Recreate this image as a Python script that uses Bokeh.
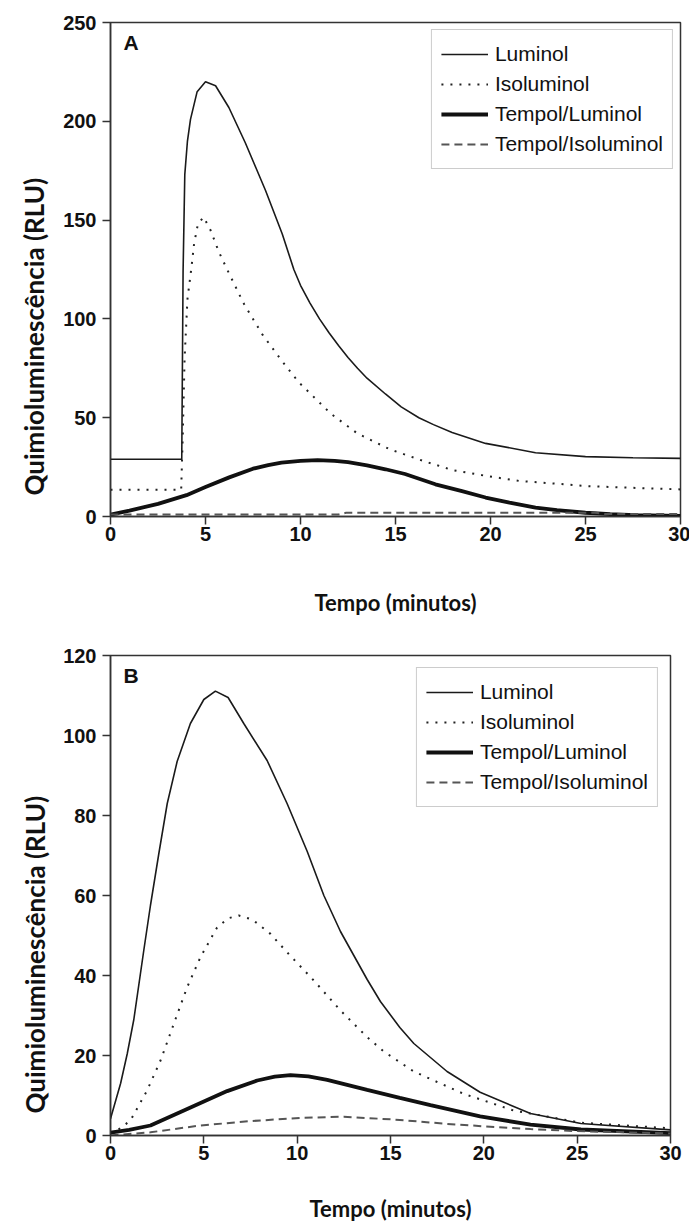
from bokeh.plotting import figure
from bokeh.models import Range1d, FixedTicker, Label, Title
from bokeh.layouts import column
from bokeh.embed import file_html
from bokeh.resources import INLINE

# ---------------- data ----------------
series_names = ["Luminol", "Isoluminol", "Tempol/Luminol", "Tempol/Isoluminol"]
x_ticks = [0, 5, 10, 15, 20, 25, 30]
a_y_ticks = [0, 50, 100, 150, 200, 250]
b_y_ticks = [0, 20, 40, 60, 80, 100, 120]

# Panel A
a_lum_t = [0, 3.75, 3.82, 3.91, 4.05, 4.21, 4.56, 5.0, 5.53, 6.23, 7.1, 8.16, 9.04, 9.65, 10.0, 10.5, 11.0, 11.5, 12.0, 12.5, 13.0, 13.5, 14.47, 15.3, 16.23, 17.0, 17.98, 19.74, 22.37, 25.0, 27.5, 30]
a_lum_y = [29, 29, 124, 173, 190, 201, 215, 220, 218, 207, 189, 165, 143, 125, 117, 108, 100, 93, 86.5, 80.5, 75, 70, 62, 55.5, 50, 46.5, 42.5, 37, 32.3, 30.3, 29.7, 29.4]

a_iso_t = [0, 3.72, 3.8, 3.9, 4.05, 4.26, 4.4, 4.6, 4.9, 5.26, 5.7, 6.14, 7.0, 8.0, 9.0, 9.9, 11.6, 13.0, 14.7, 16.5, 18.0, 19.8, 21.5, 23.6, 25.0, 27.5, 30]
a_iso_y = [13.5, 13.5, 40, 80, 110, 126, 138, 148, 151.5, 145, 134, 125, 108, 92, 79, 68, 52, 42, 34, 28, 23.5, 20.5, 18, 16.5, 15.4, 14.5, 13.7]

a_tl_t = [0, 1, 2.5, 4, 5, 6.25, 7.5, 8.3, 9, 10, 10.9, 11.8, 12.5, 13.5, 14.47, 15.5, 17.1, 18.5, 19.74, 21, 22.37, 23.5, 25, 26.3, 27.6, 30]
a_tl_y = [1, 3, 6.4, 10.8, 14.9, 19.8, 24.2, 26, 27.3, 28.2, 28.5, 28.2, 27.5, 25.9, 23.9, 21.5, 16.3, 12.8, 9.6, 7, 4.5, 3.2, 1.9, 1.2, 0.7, 0.3]

a_ti_t = [0, 12, 12.4, 25.5, 26, 30]
a_ti_y = [1.0, 1.0, 1.9, 1.9, 1.3, 1.2]

# Panel B
b_lum_t = [0, 0.54, 0.9, 1.25, 1.79, 2.14, 2.59, 3.04, 3.57, 4.28, 5.0, 5.62, 6.3, 7.14, 8.39, 9.46, 10.54, 11.43, 12.32, 13.75, 14.46, 15.5, 16.25, 18.03, 19.8, 22.5, 25.2, 30]
b_lum_y = [4.2, 13, 20.5, 29, 46.5, 57.5, 70.5, 83, 93.5, 103, 109, 111.1, 109.5, 103, 93.75, 83, 71, 60, 51, 39, 33.5, 27, 23, 16, 10.8, 5.5, 3, 1.4]

b_iso_t = [0, 0.36, 1.07, 1.96, 2.68, 3.39, 4.1, 4.82, 5.71, 6.3, 6.87, 7.6, 8.57, 9.46, 10.89, 12.32, 13.75, 14.64, 16.25, 18.93, 21.6, 25.2, 30]
b_iso_y = [0.5, 1.25, 3.75, 11.25, 18.75, 27.9, 37, 44.6, 52, 54.3, 55, 54, 50.4, 45.8, 38.75, 31.25, 24.6, 21, 16, 10.4, 6.25, 3.2, 1.8]

b_tl_t = [0, 1.0, 2.14, 3.93, 5.0, 6.25, 7.86, 8.8, 9.64, 10.6, 11.61, 13.75, 15.5, 17.14, 19.8, 22.5, 25.2, 30]
b_tl_y = [0.7, 1.4, 2.5, 6.25, 8.5, 11.1, 13.75, 14.7, 15.1, 14.8, 13.9, 11.4, 9.4, 7.6, 4.8, 2.7, 1.5, 0.6]

b_ti_t = [0, 2.14, 4.82, 7.5, 10.18, 12.5, 15.5, 18, 20, 22.5, 25, 30]
b_ti_y = [0, 0.8, 2.5, 3.6, 4.4, 4.7, 3.9, 2.9, 2.3, 1.6, 1.1, 0.5]

# ---------------- styles ----------------
STYLES = {
    "Luminol": dict(line_color="#1a1a1a", line_width=1.6),
    "Isoluminol": dict(line_color="#222222", line_width=2, line_dash="2 7"),
    "Tempol/Luminol": dict(line_color="#111111", line_width=3.8),
    "Tempol/Isoluminol": dict(line_color="#555555", line_width=2, line_dash="8 5"),
}
AXIS_COL = "#333333"


def make_panel(series, y_max, y_ticks, letter, fw, fh, mb_left, mb_right, mb_top, mb_bottom,
               xlabel_standoff, ylab_offset, ylab_standoff, legend_margin):
    p = figure(frame_width=fw, frame_height=fh, x_range=Range1d(0, 30), y_range=Range1d(0, y_max),
               output_backend="svg", toolbar_location=None,
               min_border_left=mb_left, min_border_right=mb_right,
               min_border_top=mb_top, min_border_bottom=mb_bottom)
    p.background_fill_color = "white"
    p.border_fill_color = "white"
    p.outline_line_color = AXIS_COL
    p.outline_line_width = 1.5
    p.grid.visible = False

    for name, (t, y) in zip(series_names, series):
        p.line(t, y, legend_label=name, **STYLES[name])

    p.xaxis.ticker = FixedTicker(ticks=x_ticks)
    p.yaxis.ticker = FixedTicker(ticks=y_ticks)
    for ax in (p.xaxis[0], p.yaxis[0]):
        ax.axis_line_color = AXIS_COL
        ax.axis_line_width = 1.5
        ax.major_tick_line_color = AXIS_COL
        ax.major_tick_line_width = 1.5
        ax.major_tick_out = 8
        ax.major_tick_in = 0
        ax.minor_tick_line_color = None
        ax.major_label_text_font = "Liberation Sans"
        ax.major_label_text_font_style = "bold"
        ax.major_label_text_font_size = "20px"
        ax.major_label_text_color = "#111111"
    p.yaxis.major_label_standoff = 6
    p.xaxis.major_label_standoff = 2

    p.xaxis.axis_label = "Tempo (minutos)"
    p.xaxis.axis_label_text_font = "Lato"
    p.xaxis.axis_label_text_font_style = "bold"
    p.xaxis.axis_label_text_font_size = "22px"
    p.xaxis.axis_label_text_color = "#111111"
    p.xaxis.axis_label_standoff = xlabel_standoff

    # y axis title, placed off-centre as in the original
    p.add_layout(Title(text="Quimioluminescência (RLU)", align="left", offset=ylab_offset,
                       standoff=ylab_standoff, text_font="Lato", text_font_style="bold",
                       text_font_size="26px", text_color="#111111"), "left")

    # panel letter
    p.add_layout(Label(x=13, y=y_max, x_units="screen", y_units="data",
                       text=letter, text_align="left", text_baseline="top",
                       y_offset=-8, text_font="Liberation Sans", text_font_style="bold",
                       text_font_size="21px", text_color="#111111"))

    lg = p.legend[0]
    lg.location = "top_right"
    lg.margin = legend_margin
    lg.border_line_color = "#999999"
    lg.border_line_width = 1.5
    lg.background_fill_color = "white"
    lg.background_fill_alpha = 1.0
    lg.label_text_font = "Liberation Sans"
    lg.label_text_font_size = "21px"
    lg.label_text_color = "#111111"
    lg.glyph_width = 47
    lg.glyph_height = 30
    lg.label_height = 30
    lg.label_standoff = 7
    lg.spacing = 0
    lg.padding = 9
    return p


pa = make_panel([(a_lum_t, a_lum_y), (a_iso_t, a_iso_y), (a_tl_t, a_tl_y), (a_ti_t, a_ti_y)],
                250, a_y_ticks, "A", fw=570, fh=494, mb_left=105, mb_right=14, mb_top=22, mb_bottom=112,
                xlabel_standoff=45, ylab_offset=21, ylab_standoff=22, legend_margin=7)

pb = make_panel([(b_lum_t, b_lum_y), (b_iso_t, b_iso_y), (b_tl_t, b_tl_y), (b_ti_t, b_ti_y)],
                120, b_y_ticks, "B", fw=560, fh=480, mb_left=110, mb_right=19, mb_top=27, mb_bottom=93,
                xlabel_standoff=32, ylab_offset=22, ylab_standoff=19, legend_margin=12)

layout = column(pa, pb, spacing=0)
open("out.html", "w").write(file_html(layout, INLINE))
